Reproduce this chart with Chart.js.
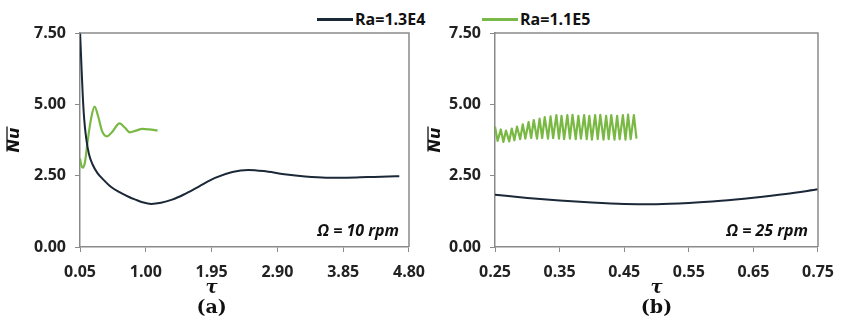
<!DOCTYPE html>
<html>
<head>
<meta charset="utf-8">
<script src="https://cdn.jsdelivr.net/npm/chart.js@4.4.0/dist/chart.umd.min.js"></script>
<style>
  body { margin: 0; background: #fff; width: 843px; height: 320px; position: relative; overflow: hidden; font-family: "Open Sans", sans-serif; }
  #chartA { position: absolute; left: 0; top: 0; }
  #chartB { position: absolute; left: 421px; top: 0; }
  .item { position: absolute; top: 8px; height: 22px; display: flex; align-items: center; font-weight: bold; font-size: 16px; color: #111; white-space: nowrap; }
  .swatch { display: inline-block; width: 36px; height: 3px; margin-right: 2px; }
</style>
</head>
<body>
<div class="item" style="left:317px"><span class="swatch" style="background:#1b2838"></span>Ra=1.3E4</div>
<div class="item" style="left:482px"><span class="swatch" style="background:#7ab84a"></span>Ra=1.1E5</div>
<canvas id="chartA" width="436" height="320"></canvas>
<canvas id="chartB" width="424" height="320"></canvas>
<script>
// panel (a), omega = 10 rpm
var tauA13 = [0.05, 0.07, 0.09, 0.11, 0.14, 0.18, 0.23, 0.30, 0.38, 0.50, 0.62, 0.75, 0.85, 0.95, 1.08, 1.22, 1.38, 1.55, 1.76, 2.00, 2.25, 2.48, 2.70, 3.00, 3.30, 3.60, 3.90, 4.20, 4.50, 4.66];
var nuA13  = [7.60, 6.40, 5.30, 4.50, 3.80, 3.25, 2.90, 2.60, 2.38, 2.10, 1.92, 1.76, 1.66, 1.57, 1.51, 1.55, 1.66, 1.84, 2.11, 2.42, 2.63, 2.70, 2.66, 2.55, 2.47, 2.43, 2.43, 2.45, 2.47, 2.48];
var tauA11 = [0.05, 0.07, 0.09, 0.12, 0.16, 0.21, 0.26, 0.31, 0.37, 0.44, 0.52, 0.62, 0.70, 0.77, 0.86, 0.95, 1.05, 1.17];
var nuA11  = [3.10, 2.85, 2.78, 2.95, 3.70, 4.50, 4.92, 4.60, 4.05, 3.88, 4.05, 4.33, 4.18, 4.02, 4.08, 4.14, 4.12, 4.08];

// panel (b), omega = 25 rpm
var tauB13 = [0.25, 0.30, 0.35, 0.40, 0.45, 0.50, 0.55, 0.60, 0.65, 0.70, 0.75];
var nuB13  = [1.83, 1.72, 1.63, 1.56, 1.51, 1.50, 1.54, 1.62, 1.73, 1.86, 2.02];
var tauB11 = [0.250, 0.254, 0.259, 0.263, 0.267, 0.272, 0.276, 0.280, 0.284, 0.289, 0.293, 0.297, 0.302,
              0.306, 0.310, 0.315, 0.319, 0.323, 0.327, 0.332, 0.336, 0.340, 0.345, 0.349, 0.353, 0.357,
              0.362, 0.366, 0.370, 0.375, 0.379, 0.383, 0.388, 0.392, 0.396, 0.400, 0.405, 0.409, 0.413,
              0.418, 0.422, 0.426, 0.430, 0.435, 0.439, 0.443, 0.448, 0.452, 0.456, 0.460, 0.465, 0.469];
var nuB11  = [4.22, 3.72, 4.12, 3.68, 4.08, 3.70, 4.15, 3.74, 4.22, 3.78, 4.30, 3.80, 4.38,
              3.82, 4.45, 3.80, 4.50, 3.82, 4.55, 3.80, 4.58, 3.82, 4.62, 3.80, 4.60, 3.78,
              4.62, 3.80, 4.63, 3.78, 4.60, 3.80, 4.62, 3.78, 4.60, 3.76, 4.62, 3.78, 4.63,
              3.76, 4.60, 3.78, 4.62, 3.76, 4.60, 3.78, 4.62, 3.76, 4.64, 3.78, 4.62, 3.80];

var yTicks  = [0, 2.5, 5, 7.5];
var xTicksA = [0.05, 1.00, 1.95, 2.90, 3.85, 4.80];
var xTicksB = [0.25, 0.35, 0.45, 0.55, 0.65, 0.75];

var labels13 = 'Ra=1.3E4', labels11 = 'Ra=1.1E5';

function pts(xs, ys) {
  return xs.map(function (x, i) { return { x: x, y: ys[i] }; });
}

// frame, Nu title with overbar, rpm note, tau and panel letter
var panelText = {
  id: 'panelText',
  afterDraw: function (chart, args, opts) {
    var ctx = chart.ctx, a = chart.chartArea;
    ctx.save();
    ctx.strokeStyle = '#8a8a8a';
    ctx.lineWidth = 1.5;
    ctx.beginPath();
    ctx.moveTo(a.left, a.top);
    ctx.lineTo(a.right, a.top);
    ctx.lineTo(a.right, a.bottom);
    ctx.stroke();

    ctx.fillStyle = '#111';
    ctx.textBaseline = 'middle';

    // y title: Nu with an overline
    ctx.save();
    ctx.translate(chart.scales.y.left + 11, (a.top + a.bottom) / 2);
    ctx.rotate(-Math.PI / 2);
    ctx.font = 'italic bold 16px "DejaVu Sans"';
    ctx.textAlign = 'center';
    ctx.fillText('Nu', 0, 0);
    var w = ctx.measureText('Nu').width;
    ctx.strokeStyle = '#111';
    ctx.lineWidth = 1.3;
    ctx.beginPath();
    ctx.moveTo(-w / 2 + 1, -8);
    ctx.lineTo(w / 2 + 1, -8);
    ctx.stroke();
    ctx.restore();

    ctx.font = 'italic bold 16px "Open Sans"';
    ctx.textAlign = 'right';
    ctx.fillText(opts.note, a.right - 10, a.bottom - 16);

    var cx = chart.scales.x.getPixelForValue(opts.labelAt);
    ctx.textAlign = 'center';
    ctx.font = 'italic bold 18px "DejaVu Serif"';
    ctx.fillText('\u03C4', cx, a.bottom + 41);
    ctx.font = 'bold 19px "DejaVu Serif"';
    ctx.fillText(opts.letter, cx, a.bottom + 61);
    ctx.restore();
  }
};

function makeChart(id, d13, d11, xMin, xMax, xTicks, yWidth, padRight, note, labelAt, letter) {
  return new Chart(document.getElementById(id), {
    type: 'line',
    data: {
      datasets: [{
        label: labels13,
        data: d13,
        borderColor: '#1b2838',
        borderWidth: 2,
        pointRadius: 0,
        cubicInterpolationMode: 'monotone'
      }, {
        label: labels11,
        data: d11,
        borderColor: '#79b943',
        borderWidth: 2.2,
        borderJoinStyle: 'round',
        pointRadius: 0,
        cubicInterpolationMode: d11.length > 30 ? 'default' : 'monotone',
        tension: d11.length > 30 ? 0 : 0.4
      }]
    },
    options: {
      responsive: false,
      animation: false,
      layout: { padding: { top: 33, left: 4, right: padRight, bottom: 43 } },
      plugins: {
        legend: { display: false },
        tooltip: { enabled: false },
        panelText: { note: note, labelAt: labelAt, letter: letter }
      },
      scales: {
        x: {
          type: 'linear',
          min: xMin,
          max: xMax,
          afterBuildTicks: function (s) { s.ticks = xTicks.map(function (v) { return { value: v }; }); },
          afterFit: function (s) { s.height = 30; },
          grid: { drawOnChartArea: false, tickLength: 5, color: '#8a8a8a' },
          border: { color: '#8a8a8a', width: 1.5 },
          ticks: {
            padding: 11,
            color: '#222',
            maxRotation: 0,
            font: { family: 'Open Sans', weight: 'bold', size: 16 },
            callback: function (v) { return v.toFixed(2); }
          }
        },
        y: {
          min: 0,
          max: 7.5,
          afterBuildTicks: function (s) { s.ticks = yTicks.map(function (v) { return { value: v }; }); },
          afterFit: function (s) { s.width = yWidth; },
          grid: { drawOnChartArea: false, tickLength: 5, color: '#8a8a8a' },
          border: { color: '#8a8a8a', width: 1.5 },
          ticks: {
            padding: 9,
            color: '#222',
            font: { family: 'Open Sans', weight: 'bold', size: 16 },
            callback: function (v) { return v.toFixed(2); }
          }
        }
      }
    },
    plugins: [panelText]
  });
}

makeChart('chartA', pts(tauA13, nuA13), pts(tauA11, nuA11), 0.05, 4.80, xTicksA, 76, 24,
  '\u03A9 = 10 rpm', 1.95, '(a)');
makeChart('chartB', pts(tauB13, nuB13), pts(tauB11, nuB11), 0.25, 0.75, xTicksB, 70, 17,
  '\u03A9 = 25 rpm', 0.50, '(b)');
</script>
</body>
</html>
